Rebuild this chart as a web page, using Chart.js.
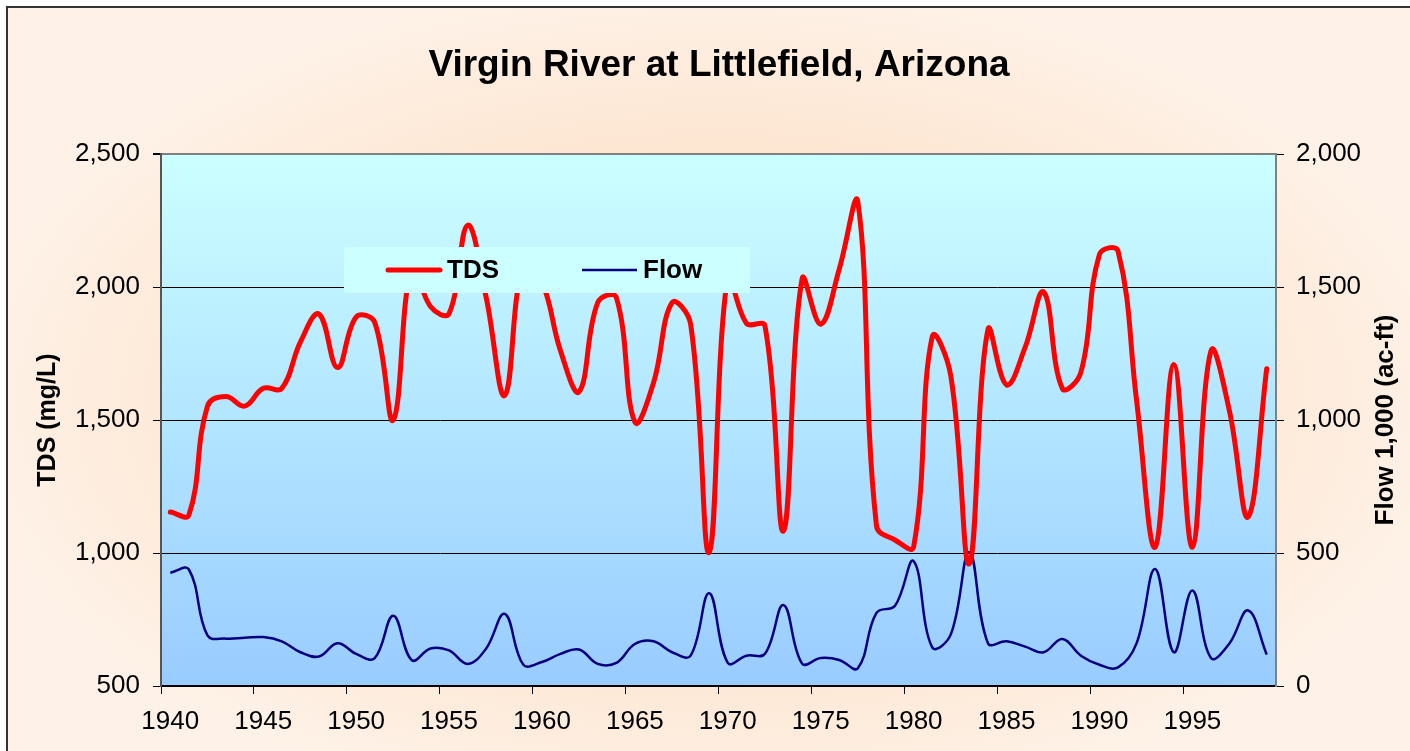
<!DOCTYPE html>
<html>
<head>
<meta charset="utf-8">
<title>Virgin River at Littlefield, Arizona</title>
<script src="https://cdn.jsdelivr.net/npm/chart.js@4.4.1/dist/chart.umd.min.js"></script>
<style>
  html, body { margin: 0; padding: 0; background: #fff; }
  #wrap { width: 1410px; height: 751px; }
</style>
</head>
<body>
<div id="wrap"><canvas id="myChart" width="1410" height="751"></canvas></div>
<script>
// water years on the category axis
const years = [
  '1940','1941','1942','1943','1944','1945','1946','1947','1948','1949',
  '1950','1951','1952','1953','1954','1955','1956','1957','1958','1959',
  '1960','1961','1962','1963','1964','1965','1966','1967','1968','1969',
  '1970','1971','1972','1973','1974','1975','1976','1977','1978','1979',
  '1980','1981','1982','1983','1984','1985','1986','1987','1988','1989',
  '1990','1991','1992','1993','1994','1995','1996','1997','1998','1999'
];

// TDS, mg/L
const tds = [
  1154, 1143, 1552, 1588, 1552, 1619, 1619, 1793, 1898, 1697,
  1887, 1867, 1500, 2080, 1927, 1900, 2232, 1960, 1592, 2090,
  2020, 1760, 1606, 1941, 1961, 1492, 1639, 1941, 1860, 1002,
  2040, 1864, 1854, 1083, 2031, 1860, 2068, 2319, 1103, 1049,
  1022, 1813, 1666, 960, 1840, 1632, 1773, 1981, 1619, 1679,
  2122, 2135, 1572, 1022, 1709, 1022, 1760, 1532, 1136, 1693
];

// flow, 1,000 ac-ft
const flow = [
  426, 438, 190, 178, 181, 184, 168, 127, 111, 161,
  121, 105, 264, 97, 141, 134, 83, 141, 271, 80,
  90, 121, 137, 83, 87, 158, 168, 127, 114, 349,
  87, 114, 121, 304, 84, 105, 98, 67, 275, 302,
  469, 145, 194, 503, 161, 168, 148, 127, 177, 114,
  80, 70, 161, 440, 127, 359, 105, 161, 284, 118
];

const xTickLabels = ['1940','1945','1950','1955','1960','1965','1970','1975','1980','1985','1990','1995'];

const FONT = 'Liberation Sans, Arial, Helvetica, sans-serif';

const chartBackground = {
  id: 'chartBackground',
  beforeDraw(chart) {
    const {ctx, width, height, chartArea: a} = chart;
    ctx.save();
    ctx.fillStyle = '#fff';
    ctx.fillRect(0, 0, width, height);

    // peach frame, a bit deeper toward the middle
    ctx.save();
    ctx.translate(712, 400);
    ctx.scale(1, 0.56);
    const g = ctx.createRadialGradient(0, 0, 0, 0, 0, 760);
    g.addColorStop(0, '#fbd3b1');
    g.addColorStop(0.55, '#fde5d0');
    g.addColorStop(1, '#fef2e8');
    ctx.fillStyle = g;
    ctx.fillRect(7 - 712, (7 - 400) / 0.56, width, (height - 7) / 0.56);
    ctx.restore();

    // plot area
    const pg = ctx.createLinearGradient(0, a.top, 0, a.bottom);
    pg.addColorStop(0, '#ccffff');
    pg.addColorStop(1, '#99ccff');
    ctx.fillStyle = pg;
    ctx.fillRect(a.left, a.top, a.right - a.left, a.bottom - a.top);

    ctx.strokeStyle = '#333';
    ctx.lineWidth = 2;
    ctx.beginPath();
    ctx.moveTo(7, height);
    ctx.lineTo(7, 7);
    ctx.lineTo(width, 7);
    ctx.stroke();
    ctx.restore();
  },
  afterDatasetsDraw(chart) {
    // legend box sits on top of the plot
    const ctx = chart.ctx;
    const ds = chart.data.datasets;
    ctx.save();
    ctx.fillStyle = '#ccffff';
    ctx.fillRect(344, 247, 406, 46);
    ctx.lineCap = 'round';
    ctx.strokeStyle = ds[0].borderColor;
    ctx.lineWidth = 5;
    ctx.beginPath();
    ctx.moveTo(388, 270);
    ctx.lineTo(440, 270);
    ctx.stroke();
    ctx.lineCap = 'butt';
    ctx.strokeStyle = ds[1].borderColor;
    ctx.lineWidth = 2.5;
    ctx.beginPath();
    ctx.moveTo(582, 270);
    ctx.lineTo(637, 270);
    ctx.stroke();
    ctx.fillStyle = '#000';
    ctx.font = 'bold 26px ' + FONT;
    ctx.textBaseline = 'middle';
    ctx.textAlign = 'left';
    ctx.fillText(ds[0].label, 447, 271);
    ctx.fillText(ds[1].label, 643, 271);
    ctx.restore();
  },
  afterDraw(chart) {
    // right axis title reads bottom to top
    const ctx = chart.ctx;
    const a = chart.chartArea;
    ctx.save();
    ctx.translate(1386, (a.top + a.bottom) / 2);
    ctx.rotate(-Math.PI / 2);
    ctx.fillStyle = '#000';
    ctx.font = 'bold 26px ' + FONT;
    ctx.textAlign = 'center';
    ctx.textBaseline = 'middle';
    ctx.fillText('Flow 1,000 (ac-ft)', 0, 0);
    ctx.restore();
  }
};

const ctx = document.getElementById('myChart');

new Chart(ctx, {
  type: 'line',
  data: {
    labels: years,
    datasets: [{
      label: 'TDS',
      data: tds,
      yAxisID: 'y',
      borderColor: '#ff0000',
      borderWidth: 5,
      borderCapStyle: 'round',
      borderJoinStyle: 'round',
      pointRadius: 0,
      tension: 0.4
    }, {
      label: 'Flow',
      data: flow,
      yAxisID: 'y2',
      borderColor: '#000080',
      borderWidth: 2.5,
      pointRadius: 0,
      tension: 0.4
    }]
  },
  options: {
    responsive: false,
    animation: false,
    layout: {
      padding: {left: 28, right: 0, top: 0, bottom: 0}
    },
    plugins: {
      legend: {display: false},
      tooltip: {enabled: false},
      title: {
        display: true,
        text: 'Virgin River at Littlefield, Arizona',
        color: '#000',
        font: {family: FONT, size: 37, weight: 'bold'},
        padding: {top: 44, bottom: 65.6}
      }
    },
    scales: {
      x: {
        type: 'category',
        offset: true,
        grid: {
          offset: true,
          drawOnChartArea: false,
          tickLength: 8,
          color: c => (c.index % 5 === 0 ? '#000' : 'rgba(0,0,0,0)')
        },
        border: {color: '#000', width: 1.5},
        ticks: {
          autoSkip: false,
          maxRotation: 0,
          padding: 12,
          color: '#000',
          font: {family: FONT, size: 26},
          callback: function (v) {
            const lab = this.getLabelForValue(v);
            return xTickLabels.includes(lab) ? lab : '';
          }
        },
        afterFit: s => { s.height = 65; }
      },
      y: {
        position: 'left',
        min: 500,
        max: 2500,
        ticks: {stepSize: 500, padding: 13, color: '#000', font: {family: FONT, size: 26}},
        grid: {
          color: c => (c.tick && c.tick.value === 2500 ? '#808080' : '#000'),
          lineWidth: c => (c.tick && c.tick.value === 2500 ? 2 : 1),
          tickColor: '#000',
          tickLength: 8
        },
        border: {color: '#555', width: 2},
        title: {
          display: true,
          text: 'TDS (mg/L)',
          color: '#000',
          font: {family: FONT, size: 25, weight: 'bold'},
          padding: {top: 5, bottom: 0}
        },
        afterFit: s => { s.width = 133; }
      },
      y2: {
        position: 'right',
        min: 0,
        max: 2000,
        ticks: {stepSize: 500, padding: 12, color: '#000', font: {family: FONT, size: 26}},
        grid: {drawOnChartArea: false, tickLength: 8, color: '#000'},
        border: {color: '#808080', width: 2},
        afterFit: s => { s.width = 134; }
      }
    }
  },
  plugins: [chartBackground]
});
</script>
</body>
</html>
